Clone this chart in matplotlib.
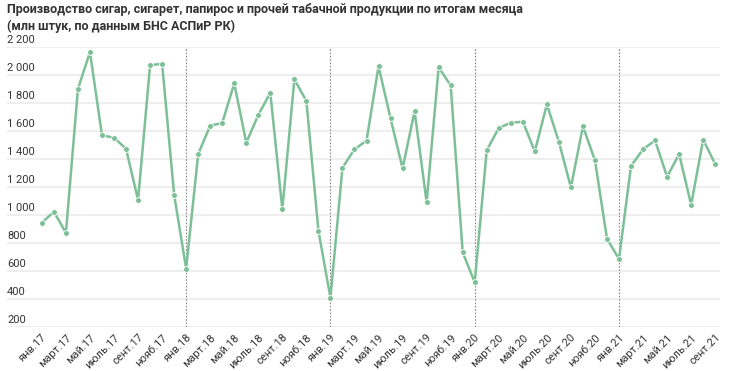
import numpy as np
import matplotlib.pyplot as plt

plt.rcParams['font.family'] = ['Roboto', 'DejaVu Sans']

# monthly production, mln pieces (Jan 2017 - Sep 2021)
v2017 = [943, 1021, 871, 1898, 2162, 1567, 1550, 1471, 1105, 2067, 2079, 1143]
v2018 = [614, 1433, 1636, 1655, 1938, 1514, 1712, 1871, 1038, 1967, 1812, 886]
v2019 = [407, 1336, 1467, 1529, 2060, 1688, 1331, 1738, 1090, 2052, 1924, 731]
v2020 = [517, 1460, 1619, 1657, 1664, 1452, 1788, 1521, 1195, 1631, 1388, 829]
v2021 = [683, 1348, 1467, 1531, 1271, 1433, 1071, 1536, 1362]
values = v2017 + v2018 + v2019 + v2020 + v2021

months = ['янв', 'февр', 'март', 'апр', 'май', 'июнь',
          'июль', 'авг', 'сент', 'окт', 'нояб', 'дек']
years = ['17', '18', '19', '20', '21']
labels = [m + '.' + y for y in years for m in months][:len(values)]
yticks = [200, 400, 600, 800, 1000, 1200, 1400, 1600, 1800, 2000, 2200]

x = np.arange(len(values))
green = '#7dbf97'

fig = plt.figure(figsize=(7.3, 3.71), dpi=100)
ax = fig.add_axes([7/730, 1 - 326.7/371, 713/730, 280/371])

for yt in yticks:
    ax.axhline(yt, color='#eeeeee', lw=1.5, zorder=0)
    ax.text(0, yt + 12, f'{yt:,}'.replace(',', ' '), transform=ax.get_yaxis_transform(),
            ha='left', va='bottom', fontsize=8, color='#333333')

# year boundaries
for i in range(12, len(values), 12):
    ax.plot([i, i], [200, 2200], color='#888888', lw=0.8, ls=(0, (1.5, 1.5)), zorder=1)

ax.plot(x, values, color=green, lw=1.8, marker='o', ms=4.2,
        mfc=green, mec='white', mew=0.6, zorder=3)

ax.set_xlim(-2.9, 56.4)
ax.set_ylim(200, 2200)
ax.set_yticks([])
ax.set_xticks(x[::2])
ax.set_xticklabels(labels[::2], rotation=45, ha='right', rotation_mode='anchor',
                   fontsize=8, color='#333333')
ax.tick_params(axis='x', length=0, pad=4)
for s in ax.spines.values():
    s.set_visible(False)

fig.text(7/730, 1 - 9/371, 'Производство сигар, сигарет, папирос и прочей табачной продукции по итогам месяца',
         ha='left', va='center', fontsize=9, fontweight='bold', color='#333333')
fig.text(7/730, 1 - 26/371, '(млн штук, по данным БНС АСПиР РК)',
         ha='left', va='center', fontsize=9, fontweight='bold', color='#333333')

fig.savefig('out.png', dpi=100)
